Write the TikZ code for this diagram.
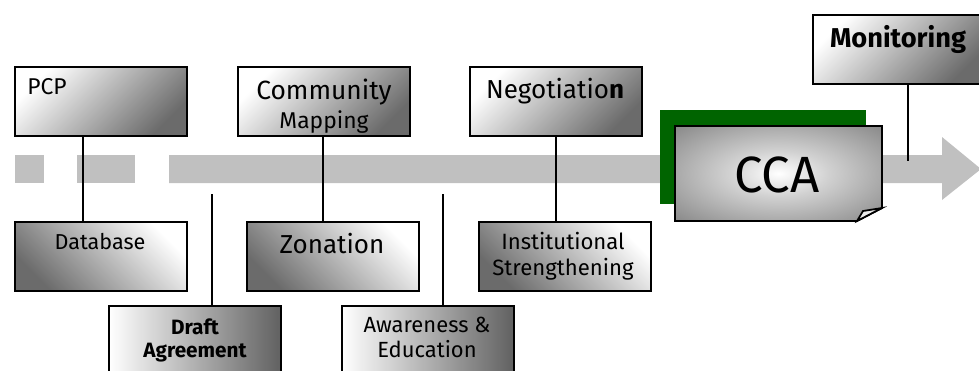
\documentclass[tikz,border=0pt]{standalone}
\usepackage{fontspec}
\setmainfont{Fira Sans}
\usetikzlibrary{positioning}

\definecolor{band}{RGB}{192,192,192}
\definecolor{ccagreen}{RGB}{0,100,0}

\pgfdeclareradialshading{ccashade}{\pgfpoint{0bp}{0bp}}{%
  color(0bp)=(white); color(12bp)=(black!18); color(40bp)=(black!52); color(60bp)=(black!52)}

\tikzset{
  box/.style = {draw, line width=1pt, anchor=north west, inner sep=0pt,
                minimum width=3.44cm, minimum height=1.38cm},
  topbox/.style = {box, top color=white, bottom color=black!58, shading angle=45},
  lowbox/.style = {box, top color=white, bottom color=black!58, shading angle=-45},
  sidebox/.style = {box, left color=white, right color=black!62},
  txt/.style = {inner sep=0pt, anchor=north, align=center},
  link/.style = {line width=0.8pt}
}

\begin{document}
\begin{tikzpicture}[x=0.02cm, y=-0.02cm]
  \useasboundingbox (0,0) rectangle (979,370);
  \clip (0,0) rectangle (979,370);

  % the time line
  \fill[band] (15,155) rectangle (44,183);
  \fill[band] (77,155) rectangle (135,183);
  \fill[band] (169,155) -- (942,155) -- (942,137) -- (981,169)
              -- (942,200) -- (942,183) -- (169,183) -- cycle;

  % steps above the line
  \node[topbox] (pcp) at (14,66) {};
  \node[topbox] (cmap) at (237,66) {};
  \node[topbox] (nego) at (469,66) {};
  \node[topbox] (moni) at (812,14) {};

  % steps below the line
  \node[lowbox] (db) at (14,221) {};
  \node[lowbox] (zone) at (246,221) {};
  \node[lowbox] (inst) at (478,221) {};
  \node[sidebox] (draft) at (108,305) {};
  \node[sidebox] (aware) at (341,305) {};

  % CCA with folded corner
  \fill[ccagreen] (660,110) rectangle (866,204);
  \draw[line width=1pt, shading=ccashade] (675,126) -- (882,126) -- (882,208)
        -- (857,221) -- (675,221) -- cycle;
  \draw[line width=1pt, fill=black!8] (857,221) -- (882,208) -- (863,211) -- cycle;
  \node[inner sep=0pt, font=\fontsize{29}{30}\selectfont] (cca) at (777,175) {CCA};

  % labels
  \node[txt, anchor=north west, font=\fontsize{13}{15}\selectfont] (pcp-t) at (27,78) {PCP};
  \node[txt, font=\fontsize{15}{14.8}\selectfont] (cmap-t) at (324,79)
       {Community\\[1.5pt]{\fontsize{13}{14.8}\selectfont Mapping}};
  \node[txt, font=\fontsize{14.8}{15}\selectfont] (nego-t) at (555,78) {Negotiatio\textbf{n}};
  \node[txt, font=\bfseries\fontsize{15.5}{17}\selectfont] (moni-t) at (898,25) {Monitoring};
  \node[txt, font=\fontsize{12.3}{14}\selectfont] (db-t) at (100,233) {Database};
  \node[txt, font=\fontsize{14.8}{16}\selectfont] (zone-t) at (332,233) {Zonation};
  \node[txt, font=\fontsize{12.6}{14.8}\selectfont] (inst-t) at (563,232) {Institutional\\Strengthening};
  \node[txt, font=\bfseries\fontsize{11.8}{13.2}\selectfont] (draft-t) at (195,318) {Draft\\Agreement};
  \node[txt, font=\fontsize{12.5}{14.2}\selectfont] (aware-t) at (427,317) {Awareness \&\\Education};

  % ties to the line
  \coordinate (t1) at (83,169);
  \coordinate (t2) at (212,194);
  \coordinate (t3) at (323,169);
  \coordinate (t4) at (443,194);
  \coordinate (t5) at (556,169);
  \coordinate (t6) at (908,161);
  \draw[link] (t1 |- pcp.south) -- (t1 |- db.north);
  \draw[link] (t2) -- (t2 |- draft.north);
  \draw[link] (t3 |- cmap.south) -- (t3 |- zone.north);
  \draw[link] (t4) -- (t4 |- aware.north);
  \draw[link] (t5 |- nego.south) -- (t5 |- inst.north);
  \draw[link] (t6 |- moni.south) -- (t6);
\end{tikzpicture}
\end{document}
